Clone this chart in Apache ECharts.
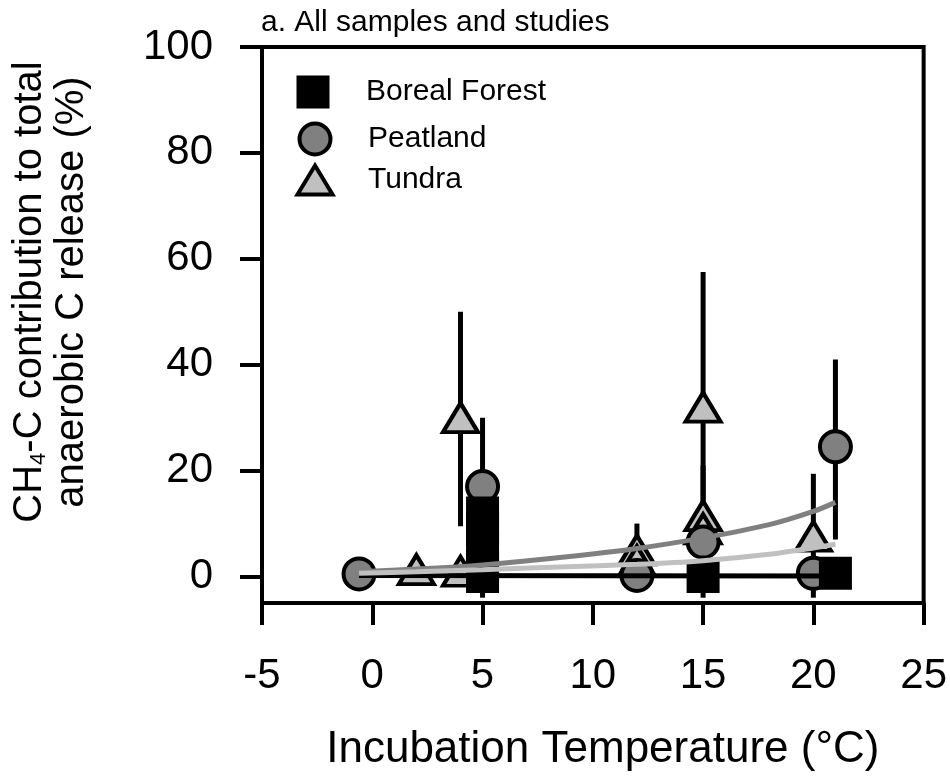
<!DOCTYPE html>
<html>
<head>
<meta charset="utf-8">
<script src="https://cdn.jsdelivr.net/npm/echarts@6.0.0/dist/echarts.min.js"></script>
<style>
  html, body { margin: 0; padding: 0; background: #fff; }
  #chart { width: 950px; height: 778px; }
</style>
</head>
<body>
<div id="chart"></div>
<script>
const yTicks = [0, 20, 40, 60, 80, 100];

// [temperature, value]
const borealPoints = [[5, 0], [5, 2], [5, 5.5], [5, 9], [5, 12], [15, 0], [21, 0.6]];
const peatlandPoints = [[-0.6, 0.5], [5, 17], [12, 0.2], [15, 6.5], [20, 0.6], [21, 24.5]];
const tundraPoints = [[2, 1.3], [4, 1.0], [4, 30], [12, 5], [12, 3], [15, 32], [15, 11.5], [15, 9], [20, 7.6]];

// error bars: [temperature, low, high]
const borealErrors = [[5, -4, 13], [15, -4, 4]];
const peatlandErrors = [[5, 4, 30], [21, 7, 41]];
const tundraErrors = [[4, 9.5, 50], [12, 0, 10], [15, 7, 57.5], [15, 0, 21], [20, -4, 19.4]];

// fitted curves
const borealFit = [[-0.6, 0.2], [21, 0.1]];
const peatlandFit = [[-0.6, 0.9], [2, 1.4], [5, 2.2], [8.5, 3.6], [12, 5.3], [15, 7.3], [18, 9.8], [20, 12.3], [21, 14]];
const tundraFit = [[-0.6, 0.6], [2, 0.9], [5, 1.3], [8.5, 1.8], [12, 2.3], [15, 3.0], [18, 4.2], [20, 5.4], [21, 6.1]];

const font = "'Liberation Sans', Arial, sans-serif";

const chart = echarts.init(document.getElementById("chart"));

function legendItem(name, top, left, w, h, itemStyle) {
  return {
    data: [name],
    orient: "vertical",
    left: left,
    top: top,
    padding: 0,
    itemWidth: w,
    itemHeight: h,
    selectedMode: false,
    itemStyle: itemStyle,
    textStyle: {
      fontFamily: font,
      fontSize: 30,
      color: "#000",
      padding: [0, 0, 0, 366 - (left + w + 5)],
    },
  };
}

chart.setOption({
  animation: false,
  backgroundColor: "#fff",
  title: {
    text: "a. All samples and studies",
    left: 261,
    top: 8,
    padding: 0,
    textStyle: {
      fontFamily: font,
      fontSize: 30,
      fontWeight: "normal",
      color: "#000",
    },
  },
  legend: [
    legendItem("Boreal Forest", 75.5, 296.5, 33, 33, { color: "#000", borderWidth: 0 }),
    legendItem("Peatland", 121.5, 297.5, 31, 31, { color: "#808080", borderColor: "#000", borderWidth: 4 }),
    legendItem("Tundra", 163.5, 295.5, 35, 29, { color: "#c0c0c0", borderColor: "#000", borderWidth: 4 }),
  ],
  grid: {
    left: 262,
    right: 25,
    top: 47,
    bottom: 175,
    show: true,
    borderColor: "#000",
    borderWidth: 4,
  },
  xAxis: {
    type: "value",
    min: -5,
    max: 25,
    interval: 5,
    name: "Incubation Temperature (°C)",
    nameLocation: "middle",
    nameGap: 125,
    nameTextStyle: { fontFamily: font, fontSize: 44, color: "#000", padding: [0, 0, 0, 20] },
    axisLine: { onZero: false, lineStyle: { color: "#000", width: 4 } },
    axisTick: { length: 22, lineStyle: { color: "#000", width: 4 } },
    axisLabel: { fontFamily: font, fontSize: 42, color: "#000", margin: 52 },
    splitLine: { show: false },
  },
  yAxis: {
    type: "value",
    min: -5,
    max: 100,
    name: "{n|CH}{sub|4}{n|-C contribution to total}\n{n|anaerobic C release (%)}",
    nameLocation: "middle",
    nameGap: 170,
    nameTextStyle: {
      fontFamily: font,
      color: "#000",
      padding: [0, 0, 0, 66],
      rich: {
        n: { fontFamily: font, fontSize: 40, lineHeight: 42, color: "#000", verticalAlign: "bottom" },
        sub: { fontFamily: font, fontSize: 22, lineHeight: 42, color: "#000", verticalAlign: "bottom" },
      },
    },
    axisLine: { onZero: false, lineStyle: { color: "#000", width: 4 } },
    axisTick: { length: 22, customValues: yTicks, lineStyle: { color: "#000", width: 4 } },
    axisLabel: { fontFamily: font, fontSize: 42, color: "#000", margin: 49, customValues: yTicks },
    splitLine: { show: false },
  },
  series: [
    {
      name: "errors",
      type: "custom",
      z: 1,
      encode: { x: 0, y: [1, 2] },
      data: borealErrors.concat(peatlandErrors, tundraErrors),
      renderItem: function (params, api) {
        const lo = api.coord([api.value(0), api.value(1)]);
        const hi = api.coord([api.value(0), api.value(2)]);
        return {
          type: "line",
          shape: { x1: lo[0], y1: lo[1], x2: hi[0], y2: hi[1] },
          style: { stroke: "#000", lineWidth: 5 },
        };
      },
    },
    {
      name: "Tundra",
      type: "scatter",
      z: 2,
      symbol: "triangle",
      symbolSize: [35, 29],
      itemStyle: { color: "#c0c0c0", borderColor: "#000", borderWidth: 4, opacity: 1 },
      data: tundraPoints,
    },
    {
      name: "Peatland",
      type: "scatter",
      z: 3,
      symbol: "circle",
      symbolSize: 31,
      itemStyle: { color: "#808080", borderColor: "#000", borderWidth: 4, opacity: 1 },
      data: peatlandPoints,
    },
    {
      name: "Boreal Forest",
      type: "scatter",
      z: 4,
      symbol: "rect",
      symbolSize: 33,
      itemStyle: { color: "#000", opacity: 1 },
      data: borealPoints,
    },
    {
      name: "Boreal fit",
      type: "line",
      z: 5,
      showSymbol: false,
      lineStyle: { color: "#000", width: 5 },
      data: borealFit,
    },
    {
      name: "Peatland fit",
      type: "line",
      z: 5,
      smooth: 0.3,
      showSymbol: false,
      lineStyle: { color: "#808080", width: 5 },
      data: peatlandFit,
    },
    {
      name: "Tundra fit",
      type: "line",
      z: 5,
      smooth: 0.3,
      showSymbol: false,
      lineStyle: { color: "#c0c0c0", width: 5 },
      data: tundraFit,
    },
  ],
});

window.addEventListener("resize", () => chart.resize());
</script>
</body>
</html>
